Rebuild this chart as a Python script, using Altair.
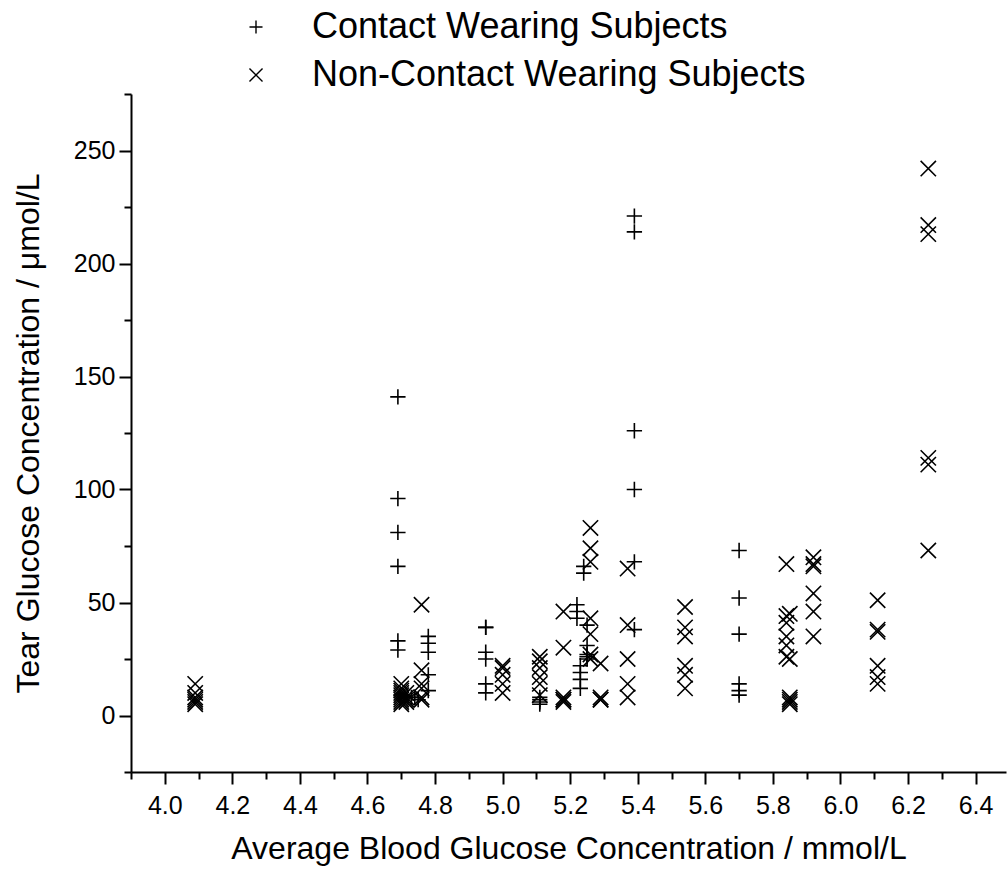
import altair as alt
import pandas as pd

# Contact wearing subjects
contact_x = [4.69, 4.69, 4.69, 4.69, 4.69, 4.69,
             4.73, 4.74, 4.75,
             4.78, 4.78, 4.78, 4.78, 4.78,
             4.95, 4.95, 4.95, 4.95, 4.95, 4.95,
             5.11, 5.11, 5.11, 5.11,
             5.22, 5.22, 5.22,
             5.24, 5.24,
             5.23, 5.23, 5.23, 5.23,
             5.25, 5.25, 5.25, 5.25, 5.25,
             5.39, 5.39, 5.39, 5.39, 5.39, 5.39,
             5.70, 5.70, 5.70, 5.70, 5.70, 5.70]
contact_y = [141, 96, 81, 66, 33, 29,
             8, 8, 7,
             35, 32, 28, 18, 11,
             39, 39, 28, 25, 14, 10,
             8, 7, 6, 5,
             49, 46, 43,
             66, 63,
             22, 19, 16, 12,
             40, 31, 27, 26, 25,
             221, 214, 126, 100, 68, 38,
             73, 52, 36, 14, 11, 9]

# Non-contact wearing subjects
noncontact_x = [4.09, 4.09, 4.09, 4.09, 4.09, 4.09,
                4.70, 4.70, 4.70, 4.70, 4.70, 4.70, 4.70, 4.70, 4.70,
                4.715, 4.715, 4.715, 4.715,
                4.76, 4.76, 4.76, 4.76, 4.76, 4.76,
                5.00, 5.00, 5.00, 5.00, 5.00,
                5.11, 5.11, 5.11, 5.11, 5.11, 5.11,
                5.18, 5.18, 5.18, 5.18, 5.18, 5.18,
                5.26, 5.26, 5.26, 5.26, 5.26, 5.26, 5.26,
                5.29, 5.29, 5.29, 5.29,
                5.37, 5.37, 5.37, 5.37, 5.37,
                5.54, 5.54, 5.54, 5.54, 5.54, 5.54,
                5.84, 5.84, 5.84, 5.84, 5.84, 5.84,
                5.85, 5.85, 5.85, 5.85, 5.85, 5.85,
                5.92, 5.92, 5.92, 5.92, 5.92, 5.92,
                6.11, 6.11, 6.11, 6.11, 6.11, 6.11,
                6.26, 6.26, 6.26, 6.26, 6.26, 6.26]
noncontact_y = [14, 10, 8, 7, 6, 5,
                14, 12, 11, 10, 9, 8, 7, 6, 5,
                10, 8, 7, 6,
                49, 20, 14, 12, 8, 7,
                22, 21, 18, 14, 10,
                26, 24, 21, 17, 14, 9,
                46, 30, 8, 7, 7, 6,
                83, 74, 68, 43, 36, 27, 25,
                23, 8, 7, 7,
                65, 40, 25, 14, 8,
                48, 39, 35, 22, 18, 12,
                67, 44, 41, 35, 31, 26,
                45, 25, 8, 7, 6, 5,
                70, 67, 66, 54, 46, 35,
                51, 38, 37, 22, 17, 14,
                242, 217, 213, 114, 111, 73]

series_names = ["Contact Wearing Subjects", "Non-Contact Wearing Subjects"]
x_ticks = [round(3.9 + 0.1 * i, 1) for i in range(26)]
y_ticks = [-25 + 25 * i for i in range(13)]

df = pd.concat([
    pd.DataFrame({"x": contact_x, "y": contact_y, "group": series_names[0]}),
    pd.DataFrame({"x": noncontact_x, "y": noncontact_y, "group": series_names[1]}),
])

PLUS = "M-1,0L1,0M0,-1L0,1"
CROSS = "M-1,-1L1,1M-1,1L1,-1"
FONT = "Liberation Sans"

chart = alt.Chart(df).mark_point(
    filled=False, strokeWidth=1.6, opacity=1, size=235, color="black"
).encode(
    x=alt.X("x:Q",
            scale=alt.Scale(domain=[3.9, 6.49], nice=False, zero=False),
            axis=alt.Axis(
                values=x_ticks,
                labelExpr="round(datum.value*10) % 2 === 0 ? format(datum.value, '.1f') : ''",
                tickSize={"condition": {"test": "round(datum.value*10) % 2 === 0", "value": 12}, "value": 7},
                labelPadding=9,
                labelOverlap=False, labelFlush=False,
                labelFontSize=25,
                title="Average Blood Glucose Concentration / mmol/L",
                titleFontSize=32, titleFontWeight="normal",
                titleY=86, titleBaseline="alphabetic",
            )),
    y=alt.Y("y:Q",
            scale=alt.Scale(domain=[-25, 275], nice=False, zero=False),
            axis=alt.Axis(
                values=y_ticks,
                labelExpr="datum.value % 50 === 0 && datum.value >= 0 && datum.value <= 250 ? datum.value : ''",
                tickSize={"condition": {"test": "datum.value % 50 === 0", "value": 12}, "value": 7},
                labelPadding=4,
                labelOverlap=False, labelFlush=False,
                labelFontSize=25,
                title="Tear Glucose Concentration / μmol/L",
                titleFontSize=32, titleFontWeight="normal",
                titleX=-93, titleBaseline="alphabetic",
            )),
    shape=alt.Shape("group:N",
                    scale=alt.Scale(domain=series_names, range=[PLUS, CROSS]),
                    legend=alt.Legend(
                        title=None, orient="none", legendX=107, legendY=-85,
                        padding=0, symbolSize=170, symbolStrokeWidth=1.4,
                        symbolStrokeColor="black", symbolFillColor="transparent",
                        labelFontSize=36, labelOffset=38, rowPadding=12, labelLimit=0,
                        labelFont=FONT, labelColor="black",
                    )),
).properties(
    width=875, height=678,
    autosize=alt.AutoSizeParams(type="none"),
    padding={"left": 131, "top": 94, "right": 2, "bottom": 107},
).configure_axis(
    grid=False, domainColor="black", domainWidth=2, tickColor="black", tickWidth=2,
    labelFont=FONT, titleFont=FONT, labelColor="black", titleColor="black",
).configure_view(stroke=None)

chart.save("out.html", embed_options={"renderer": "svg", "actions": False})
